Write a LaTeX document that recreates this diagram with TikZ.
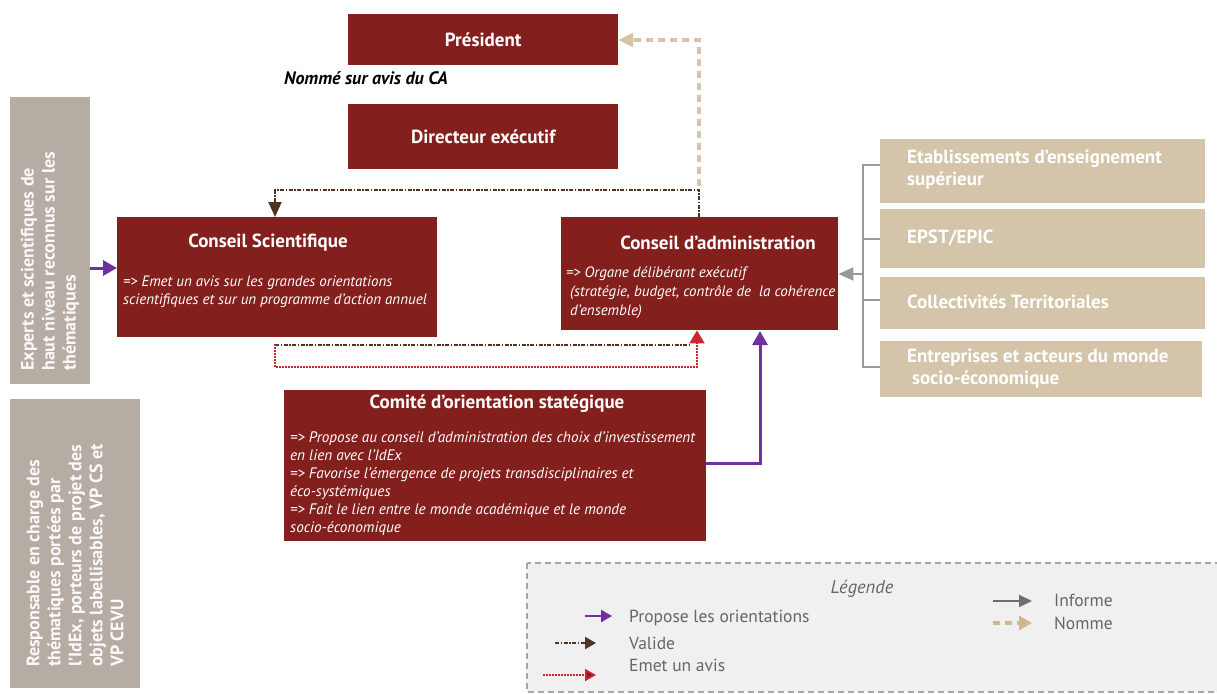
\documentclass[tikz,border=0pt]{standalone}
\usepackage{fontspec}
\setmainfont{PT Sans}
\usetikzlibrary{arrows.meta}
\definecolor{dred}{HTML}{83201E}
\definecolor{gbox}{HTML}{B5ACA3}
\definecolor{beige}{HTML}{D4C5AA}
\definecolor{purp}{HTML}{7030A0}
\definecolor{brn}{HTML}{4F3422}
\definecolor{rdot}{HTML}{C8282D}
\definecolor{rarr}{HTML}{8B1A1A}
\definecolor{infg}{HTML}{6E6E6E}
\definecolor{legbg}{HTML}{F0F0F0}
\definecolor{legtxt}{HTML}{666666}
\tikzset{
  redbox/.style={fill=dred, draw=none, inner sep=0pt, anchor=north west},
  titletxt/.style={text=white, font=\bfseries\fontsize{19}{22}\selectfont, inner sep=0pt},
  bodytxt/.style={text=white, font=\itshape\fontsize{15}{17.5}\selectfont, inner sep=0pt, align=left, anchor=north west},
  sidebox/.style={fill=gbox, draw=none, inner sep=0pt, anchor=north west},
  sidetxt/.style={text=white!94!gbox, font=\bfseries\fontsize{18}{21}\selectfont, inner sep=0pt, align=left, rotate=90, anchor=west},
  bgbox/.style={fill=beige, draw=none, inner sep=0pt, anchor=north west},
  bgtxt/.style={text=white, font=\bfseries\fontsize{19}{22}\selectfont, inner sep=0pt, align=left, anchor=west},
  propose/.style={draw=purp, line width=3pt, -{Triangle[length=14pt,width=15pt,fill=purp]}},
  valide/.style={draw=brn, line width=2.2pt, dash pattern=on 4pt off 1.5pt on 1.5pt off 1.5pt, -{Triangle[length=15pt,width=13pt,fill=brn]}},
  emet/.style={draw=rdot, line width=1.8pt, dash pattern=on 2pt off 1pt},
  nomme/.style={draw=beige, line width=3.5pt, dash pattern=on 7pt off 5pt, -{Triangle[length=15pt,width=14pt,fill=beige]}},
  informe/.style={draw=infg!70, line width=2pt, -{Triangle[length=15pt,width=13pt,fill=infg!70]}},
  legtext/.style={text=legtxt, font=\fontsize{17.5}{20}\selectfont, inner sep=0pt, anchor=west},
}
\begin{document}
\begin{tikzpicture}[x=1pt,y=-1pt]
\clip (0,0) rectangle (1217,693);
\fill[white] (0,0) rectangle (1217,693);

% Président & Directeur
\node[redbox, minimum width=270pt, minimum height=51pt] (pres) at (348,14) {};
\node[titletxt] (prest) at (pres.center) {Président};
\node[inner sep=0pt, anchor=west, font=\bfseries\itshape\fontsize{18}{20}\selectfont] (nomme) at (284,78) {Nommé sur avis du CA};
\node[redbox, minimum width=270pt, minimum height=65pt] (dir) at (348,104) {};
\node[titletxt] (dirt) at (dir.center) {Directeur exécutif};

% Conseil Scientifique
\node[redbox, minimum width=320pt, minimum height=120pt] (cs) at (117,217) {};
\node[titletxt] (cst) at (268,243) {Conseil Scientifique};
\node[bodytxt] (csb) at (123,276) {=> Emet un avis sur les grandes orientations\\scientifiques et sur un programme d’action annuel};

% Conseil d'administration
\node[redbox, minimum width=277pt, minimum height=113pt] (ca) at (561,217) {};
\node[titletxt] (cat) at (718,243) {Conseil d’administration};
\node[bodytxt, font=\itshape\fontsize{15}{19}\selectfont] (cab) at (566,266) {=> Organe délibérant exécutif\\\ (stratégie, budget, contrôle de\ \ la cohérence\\\ d’ensemble)};

% Comité
\node[redbox, minimum width=422pt, minimum height=151pt] (cos) at (284,390) {};
\node[titletxt] (cost) at (497,404) {Comité d’orientation statégique};
\node[bodytxt, font=\itshape\fontsize{15.2}{18}\selectfont] (cosb) at (290,432) {=> Propose au conseil d’administration des choix d’investissement\\en lien avec l’IdEx\\=> Favorise l’émergence de projets transdisciplinaires et\\éco-systémiques\\=> Fait le lien entre le monde académique et le monde\\socio-économique};

% Side gray boxes
\node[sidebox, minimum width=80pt, minimum height=287pt] (exp) at (10,97) {};
\node[sidetxt] (expt) at (50,371) {Experts et scientifiques de\\haut niveau reconnus sur les\\thématiques};
\node[sidebox, minimum width=130pt, minimum height=289pt] (resp) at (10,399) {};
\node[sidetxt] (respt) at (75,667) {Responsable en charge des\\thématiques portées par\\l’IdEx, porteurs de projet des\\objets labellisables, VP CS et\\VP CEVU};

% Beige boxes
\node[bgbox, minimum width=325pt, minimum height=64pt] (b1) at (880,139) {};
\node[bgtxt] (b1t) at (907,170) {Etablissements d’enseignement\\supérieur};
\node[bgbox, minimum width=325pt, minimum height=59pt] (b2) at (880,209) {};
\node[bgtxt] (b2t) at (907,238) {EPST/EPIC};
\node[bgbox, minimum width=325pt, minimum height=52pt] (b3) at (880,277) {};
\node[bgtxt] (b3t) at (907,302) {Collectivités Territoriales};
\node[bgbox, minimum width=322pt, minimum height=56pt] (b4) at (880,341) {};
\node[bgtxt] (b4t) at (907,369) {Entreprises et acteurs du monde\\\ socio-économique};

% Informe bracket
\coordinate (brt) at (863,165);
\coordinate (brb) at (863,367);
\coordinate (brm) at (863,274);
\draw[infg!70, line width=2pt] (b1.west |- brt) -- (brt) -- (brb) -- (b4.west |- brb);
\draw[infg!70, line width=2pt] (brm |- b2.west) -- (b2.west);
\draw[infg!70, line width=2pt] (brm |- 0,300) -- (b3.west |- 0,300);
\draw[informe] (brm) -- (ca.east |- brm);

% Propose arrows
\draw[propose] (exp.east |- 0,268) -- (cs.west |- 0,268);
\draw[propose] (cos.east |- 0,463) -| (760,331);

% Valide + Nomme from CA top
\coordinate (vtop) at (699,190);
\draw[nomme] (699,186) -- (699,40) -- (pres.east |- 0,40);
\draw[valide] (ca.north -| vtop) -- (vtop) -- (275,190) -- (cs.north -| 275,0);

% Emet un avis / valide from CS bottom
\draw[draw=brn, line width=2.2pt, dash pattern=on 4pt off 1.5pt on 1.5pt off 1.5pt] (275,345) -- (690,345);
\draw[emet, -{Triangle[length=13pt,width=15pt,fill=rdot]}] (275,344) -- (275,367) -- (697,367) -- (ca.south -| 697,0);

% Legend
\draw[fill=legbg, draw=gray!70, line width=1.5pt, dash pattern=on 6pt off 4pt] (527,563) rectangle (1230,692);
\node[inner sep=0pt, text=legtxt, font=\itshape\fontsize{18.5}{20}\selectfont] (leg) at (862,589) {Légende};
\coordinate (l1a) at (585,616); \coordinate (l1b) at (612,616);
\draw[propose, line width=2.5pt, -{Triangle[length=11pt,width=12pt,fill=purp]}] (l1a) -- (l1b);
\node[legtext] (l1t) at (629,618) {Propose les orientations};
\coordinate (l2a) at (555,643); \coordinate (l2b) at (596,643);
\draw[valide, -{Triangle[length=11pt,width=12pt,fill=brn]}] (l2a) -- (l2b);
\node[legtext] (l2t) at (629,643) {Valide};
\coordinate (l3a) at (543,675); \coordinate (l3b) at (596,675);
\draw[emet, -{Triangle[length=11pt,width=12pt,fill=rarr]}] (l3a) -- (l3b);
\node[legtext] (l3t) at (629,665) {Emet un avis};
\coordinate (l4a) at (993,601); \coordinate (l4b) at (1032,601);
\draw[informe, draw=infg, -{Triangle[length=13pt,width=12pt,fill=infg]}] (l4a) -- (l4b);
\node[legtext] (l4t) at (1054,600) {Informe};
\coordinate (l5a) at (993,623); \coordinate (l5b) at (1032,623);
\draw[nomme, draw=beige!80!brown, -{Triangle[length=13pt,width=14pt,fill=beige!70!brown]}] (l5a) -- (l5b);
\node[legtext] (l5t) at (1054,623) {Nomme};
\end{tikzpicture}
\end{document}
